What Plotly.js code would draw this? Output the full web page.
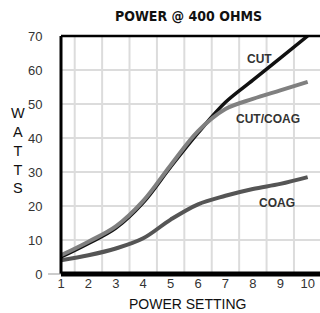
<!DOCTYPE html>
<html>
<head>
<meta charset="utf-8">
<script src="https://cdn.plot.ly/plotly-3.0.1.min.js"></script>
<style>html,body{margin:0;padding:0;background:#fff;}#chart{width:320px;height:313px;}</style>
</head>
<body>
<div id="chart"></div>
<script>
const powerSetting = [1, 2, 3, 4, 5, 6, 7, 8, 9, 10];
const cutWatts     = [5, 9, 13.5, 21, 31.5, 41.5, 50.5, 57, 63.5, 70];
const cutCoagWatts = [5.5, 9.5, 14, 21.5, 32, 42, 48.5, 51.5, 54, 56.5];
const coagWatts    = [4, 5.5, 7.5, 10.5, 16, 20.5, 23, 25, 26.5, 28.5];
const seriesNames  = ["CUT", "CUT/COAG", "COAG"];
const xTickLabels  = ["1","2","3","4","5","6","7","8","9","10"];
const yTickValues  = [0, 10, 20, 30, 40, 50, 60, 70];
const gridX        = [1.5, 2.5, 3.5, 4.5, 5.5, 6.5, 7.5, 8.5, 9.5];
const titleText    = "POWER @ 400 OHMS";
const xTitleText   = "POWER SETTING";
const yTitleText   = "WATTS";

const traces = [
  {x: powerSetting, y: coagWatts, name: seriesNames[2], mode: "lines",
   line: {color: "#555555", width: 4, shape: "spline", smoothing: 1}},
  {x: powerSetting, y: cutWatts, name: seriesNames[0], mode: "lines",
   line: {color: "#111111", width: 3.5, shape: "spline", smoothing: 1}},
  {x: powerSetting, y: cutCoagWatts, name: seriesNames[1], mode: "lines",
   line: {color: "#808080", width: 4, shape: "spline", smoothing: 1}}
];

const narrowBold = "'Liberation Sans Narrow', 'Arial Narrow', 'DejaVu Sans Condensed', 'Liberation Sans', Arial, sans-serif";
const regular = "'Liberation Sans', Arial, sans-serif";

const gridShapes = gridX.map(g => ({type: "line", xref: "x", yref: "paper", x0: g, x1: g, y0: 0, y1: 1,
  line: {color: "#dcdcdc", width: 2}, layer: "below"}));

const layout = {
  width: 320, height: 313,
  margin: {l: 61, r: 0, t: 36, b: 39},
  paper_bgcolor: "#ffffff", plot_bgcolor: "#ffffff",
  showlegend: false,
  xaxis: {
    range: [1, 10.45], tickmode: "array", tickvals: powerSetting, ticktext: xTickLabels,
    showgrid: false, zeroline: false, showline: false,
    ticks: "", ticklabelstandoff: 0,
    tickfont: {family: regular, size: 13, color: "#333333"}
  },
  yaxis: {
    range: [0, 70], tickmode: "array", tickvals: yTickValues,
    showgrid: true, gridcolor: "#dcdcdc", gridwidth: 2, zeroline: false, showline: false,
    ticks: "outside", ticklen: 0, ticklabelstandoff: 15,
    tickfont: {family: regular, size: 13, color: "#333333"}
  },
  shapes: gridShapes.concat([
    {type: "line", xref: "paper", yref: "paper", x0: 0, x1: 1, y0: 0, y1: 0, line: {color: "#000", width: 5}, layer: "above"},
    {type: "line", xref: "paper", yref: "paper", x0: 0, x1: 1, y0: 1, y1: 1, line: {color: "#000", width: 2.5}, layer: "above"},
    {type: "line", xref: "paper", yref: "paper", x0: 0, x1: 0, y0: 0, y1: 1, line: {color: "#000", width: 3}, layer: "above"},
    {type: "line", xref: "paper", yref: "paper", x0: -0.05, x1: 0, y0: 0, y1: 0, line: {color: "#999", width: 1}, layer: "above"}
  ]),
  annotations: [
    {text: "<b>" + titleText + "</b>", xref: "paper", yref: "paper", x: 0.494, y: 1, yshift: 20,
     xanchor: "center", yanchor: "middle", showarrow: false, font: {family: narrowBold, size: 14, color: "#111"}},
    {text: xTitleText, xref: "paper", yref: "paper", x: 0.49, y: 0, yshift: -30,
     xanchor: "center", yanchor: "middle", showarrow: false, font: {family: regular, size: 14, color: "#111"}},
    {text: yTitleText.split("").join("<br>"), xref: "paper", yref: "paper", x: 0, xshift: -43, y: 0.5, yshift: 5,
     xanchor: "center", yanchor: "middle", showarrow: false, font: {family: regular, size: 14.5, color: "#111"}},
    {text: "<b>" + seriesNames[0] + "</b>", x: 8.26, y: 63.2, xanchor: "center", yanchor: "middle", showarrow: false,
     font: {family: regular, size: 12, color: "#333"}},
    {text: "<b>" + seriesNames[1] + "</b>", x: 8.55, y: 45.6, xanchor: "center", yanchor: "middle", showarrow: false,
     font: {family: regular, size: 12, color: "#333"}},
    {text: "<b>" + seriesNames[2] + "</b>", x: 8.87, y: 20.9, xanchor: "center", yanchor: "middle", showarrow: false,
     font: {family: regular, size: 12, color: "#333"}}
  ]
};

Plotly.newPlot("chart", traces, layout, {staticPlot: true, displayModeBar: false});
</script>
</body>
</html>
